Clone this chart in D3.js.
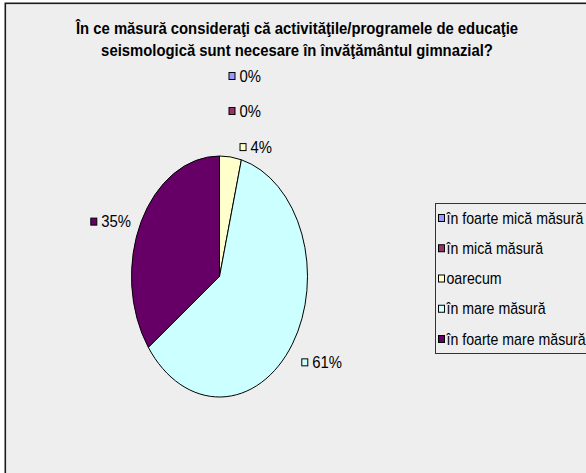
<!DOCTYPE html>
<html>
<head>
<meta charset="utf-8">
<script src="https://cdn.jsdelivr.net/npm/d3@7"></script>
<style>
  html, body { margin: 0; padding: 0; background: #ffffff; }
  svg { display: block; }
</style>
</head>
<body>
<svg id="chart" width="586" height="473"></svg>
<script>
// Survey answers: how necessary seismology education is in middle school
const categories = [
  "în foarte mică măsură",
  "în mică măsură",
  "oarecum",
  "în mare măsură",
  "în foarte mare măsură"
];
const values = [0, 0, 4, 61, 35];
const colors = ["#9999FF", "#993366", "#FFFFCC", "#CCFFFF", "#660066"];
const titleLines = [
  "În ce măsură consideraţi că activităţile/programele de educaţie",
  "seismologică sunt necesare în învăţământul gimnazial?"
];

const W = 586, H = 473;
const svg = d3.select("#chart");
const textFont = "'Liberation Sans', Arial, sans-serif";

// condensed text: glyphs are squeezed horizontally around their anchor
const TITLE_SX = 0.9, TEXT_SX = 0.93, LEGEND_SX = 0.885, TEXT_SIZE = 16;
function placeText(sel, x, y, sx) {
  sel.attr("x", 0).attr("y", 0)
    .attr("transform", `translate(${x},${y}) scale(${sx},1)`);
}

// chart area frame (runs past the right and bottom edges)
svg.append("rect")
  .attr("x", 5.3).attr("y", 3.3)
  .attr("width", W + 20).attr("height", H + 20)
  .attr("fill", "#EEEEEE")
  .attr("stroke", "#1a1a1a")
  .attr("stroke-width", 1.6);

// title
svg.append("g")
  .selectAll("text")
  .data(titleLines)
  .join("text")
  .attr("text-anchor", "middle")
  .attr("font-family", textFont)
  .attr("font-weight", "bold")
  .attr("font-size", 16.5)
  .attr("fill", "#000")
  .text(d => d)
  .each(function (d, i) { placeText(d3.select(this), 297, 34 + i * 22, TITLE_SX); });

// pie geometry: drawn as a circle, stretched into an ellipse
const cx = 219.5, cy = 276.5, rx = 88, ry = 120.5;

const pie = d3.pie().sort(null).value(d => d.value)
  .startAngle(0).endAngle(2 * Math.PI);
const data = categories.map((c, i) => ({ name: c, value: values[i], color: colors[i], index: i }));
const arcs = pie(data);
const total = d3.sum(values);

const arc = d3.arc().innerRadius(0).outerRadius(ry);

const pieG = svg.append("g")
  .attr("transform", `translate(${cx},${cy}) scale(${rx / ry},1)`);

pieG.selectAll("path")
  .data(arcs.filter(a => a.value > 0))
  .join("path")
  .attr("d", arc)
  .attr("fill", d => d.data.color)
  .attr("stroke", "#000")
  .attr("stroke-width", 1)
  .attr("vector-effect", "non-scaling-stroke");

// data labels: colour key + percentage, placed outside the ellipse
const fmt = v => Math.round(v / total * 100) + "%";
const labelG = svg.append("g");

const items = arcs.map(a => {
  const mid = (a.startAngle + a.endAngle) / 2;
  const s = Math.sin(mid), c = Math.cos(mid);
  const px = cx + rx * s, py = cy - ry * c;
  const t = labelG.append("text")
    .attr("font-family", textFont)
    .attr("font-size", TEXT_SIZE)
    .attr("fill", "#000")
    .text(fmt(a.value));
  const tw = t.node().getComputedTextLength() * TEXT_SX;
  const w = 11 + tw;
  const left = s >= -1e-6 ? px + 9 : px - 10 - w;
  const yc = py + 8 - 18 * c;
  return { a, t, left, yc, w, h: 14 };
});

// push overlapping labels upward, starting from the last slice
const placed = [];
for (let k = items.length - 1; k >= 0; k--) {
  const it = items[k];
  const overlaps = () => placed.some(p =>
    it.left < p.left + p.w && p.left < it.left + it.w &&
    Math.abs(it.yc - p.yc) < (it.h + p.h) / 2 + 4);
  while (overlaps()) it.yc -= 35;
  placed.push(it);
}

items.forEach(it => {
  labelG.append("rect")
    .attr("x", it.left + 0.5).attr("y", it.yc - 3.5)
    .attr("width", 6).attr("height", 7)
    .attr("fill", it.a.data.color)
    .attr("stroke", "#000").attr("stroke-width", 1);
  placeText(it.t, it.left + 11, it.yc + 5.5, TEXT_SX);
});

// legend
const legTop = 203.5, legH = 150, legStep = 30.25;
const legMid = legTop + legH / 2;
const legG = svg.append("g");
legG.append("rect")
  .attr("x", 435.5).attr("y", legTop)
  .attr("width", 200).attr("height", legH)
  .attr("fill", "#EEEEEE")
  .attr("stroke", "#333")
  .attr("stroke-width", 1);

const legY = d3.scalePoint()
  .domain(categories)
  .range([legMid - 2 * legStep, legMid + 2 * legStep]);

const legItem = legG.selectAll("g.item")
  .data(data)
  .join("g")
  .attr("class", "item")
  .attr("transform", d => `translate(0,${legY(d.name)})`);

legItem.append("rect")
  .attr("x", 438.5).attr("y", -3.5)
  .attr("width", 6).attr("height", 7)
  .attr("fill", d => d.color)
  .attr("stroke", "#000").attr("stroke-width", 1);

legItem.append("text")
  .attr("font-family", textFont)
  .attr("font-size", TEXT_SIZE)
  .attr("fill", "#000")
  .text(d => d.name)
  .each(function () { placeText(d3.select(this), 446.5, 5.5, LEGEND_SX); });
</script>
</body>
</html>
